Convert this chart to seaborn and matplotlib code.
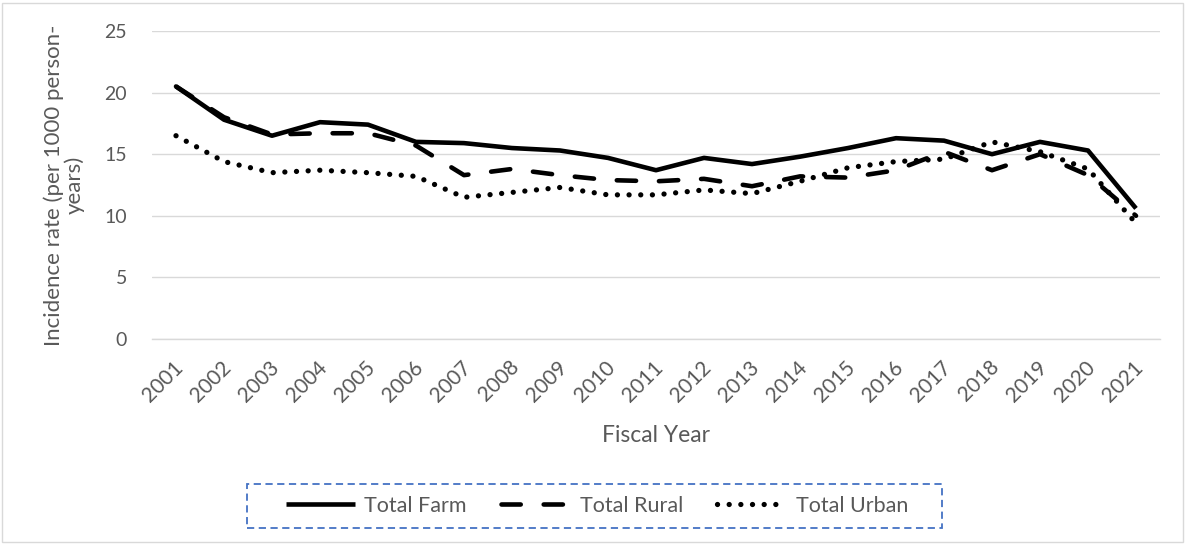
import matplotlib
matplotlib.use("Agg")
import matplotlib.pyplot as plt
from matplotlib.patches import Rectangle
from matplotlib.transforms import ScaledTranslation
import seaborn as sns
import pandas as pd

years = list(range(2001, 2022))
farm = [20.5, 17.8, 16.5, 17.6, 17.4, 16.0, 15.9, 15.5, 15.3, 14.7, 13.7,
        14.7, 14.2, 14.8, 15.5, 16.3, 16.1, 15.0, 16.0, 15.3, 10.6]
rural = [20.5, 18.0, 16.6, 16.7, 16.7, 15.7, 13.3, 13.8, 13.3, 12.9, 12.8,
         13.0, 12.4, 13.2, 13.1, 13.7, 15.2, 13.7, 15.0, 13.3, 10.0]
urban = [16.5, 14.4, 13.5, 13.7, 13.5, 13.2, 11.5, 11.9, 12.3, 11.7, 11.7,
         12.1, 11.8, 12.8, 13.9, 14.4, 14.6, 16.0, 15.2, 13.8, 9.4]
series_names = ["Total Farm", "Total Rural", "Total Urban"]
y_ticks = [0, 5, 10, 15, 20, 25]

df = pd.DataFrame({
    "year": years * 3,
    "rate": farm + rural + urban,
    "series": [n for n in series_names for _ in years],
})
df["pos"] = df["year"] - years[0]

sns.set_theme(style="white")
plt.rcParams["font.family"] = ["Lato", "DejaVu Sans"]
grey = "#595959"
W, H = 1186, 544

fig = plt.figure(figsize=(W / 100, H / 100), dpi=100)
ax = fig.add_axes([152 / W, 1 - 339 / H, 1008 / W, 308 / H])

dash_map = {"Total Farm": "", "Total Rural": (4.2, 5.0), "Total Urban": (0.01, 2.6)}
sns.lineplot(data=df, x="pos", y="rate", style="series", style_order=series_names,
             dashes=dash_map, color="black", linewidth=3.3, legend=False,
             ax=ax, sort=False)
for ln in ax.lines:
    ln.set_dash_capstyle("round")
    ln.set_solid_capstyle("butt")
    ln.set_solid_joinstyle("round")
# slightly heavier dots for the urban series
ax.lines[2].set_linewidth(3.8)
ax.lines[2].set_dashes((0.01, 2.2))

ax.set_xlim(-0.5, len(years) - 0.5)
ax.set_ylim(0, 25)
ax.set_yticks(y_ticks)
ax.set_xticks(range(len(years)))
ax.set_xticklabels([str(y) for y in years], rotation=45, ha="right",
                   va="center", rotation_mode="anchor")
ax.tick_params(axis="y", length=0, labelsize=14, colors=grey, pad=18)
ax.tick_params(axis="x", length=0, labelsize=15, colors=grey, pad=18)
shift = ScaledTranslation(4 / 100, 0, fig.dpi_scale_trans)
for lab in ax.get_xticklabels():
    lab.set_transform(lab.get_transform() + shift)
ax.grid(axis="y", color="#d9d9d9", linewidth=1.0)
ax.set_axisbelow(True)
for side in ["top", "right", "left"]:
    ax.spines[side].set_visible(False)
ax.spines["bottom"].set_color("#d9d9d9")
ax.spines["bottom"].set_linewidth(1.0)

ax.set_xlabel("Fiscal Year", fontsize=16.5, color=grey, labelpad=14)
ax.set_ylabel("Incidence rate (per 1000 person-\nyears)", fontsize=16,
              color=grey, labelpad=14, linespacing=1.0)

# legend box with its own dashed outline
leg = fig.legend(ax.lines, series_names, loc="center", ncol=3,
                 bbox_to_anchor=(597 / W, 1 - 506 / H), fontsize=15.5,
                 handlelength=3.2, handletextpad=0.45, columnspacing=1.6,
                 frameon=False, borderpad=0, borderaxespad=0)
for t in leg.get_texts():
    t.set_color(grey)
fig.patches.append(Rectangle((247 / W, 1 - 528 / H), 695 / W, 44 / H,
                             transform=fig.transFigure, fill=False,
                             edgecolor="#4472c4", linewidth=1.3,
                             linestyle=(0, (4, 2.5))))

fig.patches.append(Rectangle((2 / W, 2 / H), 1181 / W, 539 / H,
                             transform=fig.transFigure, fill=False,
                             edgecolor="#d9d9d9", linewidth=1.0))

fig.savefig("out.png", dpi=100, facecolor="white")
